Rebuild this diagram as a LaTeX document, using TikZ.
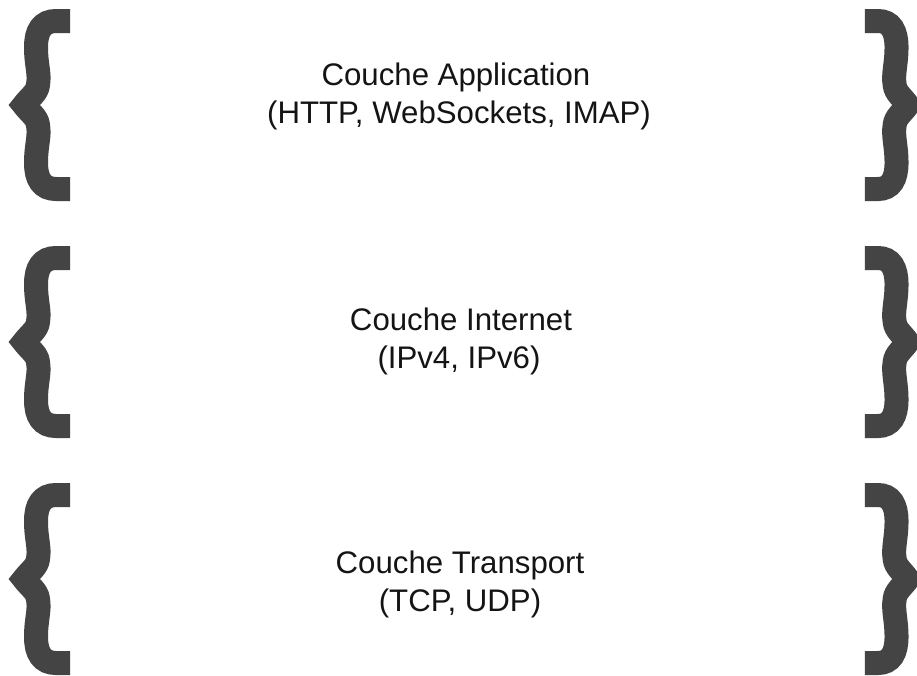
\documentclass[tikz,border=0pt]{standalone}
\usepackage{fontspec}
\setmainfont{Liberation Sans}
\definecolor{bracegray}{RGB}{68,68,68}
\definecolor{textcol}{RGB}{20,20,20}
\begin{document}
\begin{tikzpicture}[x=0.75pt,y=-0.75pt,
  bracestroke/.style={draw=bracegray,line width=18pt,line cap=butt,line join=miter,miter limit=10},
  lbrace/.pic={
    \draw[bracestroke] (70,12) -- (56,12) .. controls (42,12) and (36,22) .. (36,38)
      .. controls (36,56) and (40,64) .. (38,76)
      .. controls (37,84) and (30,88) .. (24,96)
      .. controls (30,104) and (37,108) .. (38,116)
      .. controls (40,128) and (36,136) .. (36,154)
      .. controls (36,170) and (42,180) .. (56,180) -- (70,180);
  },
  label/.style={font=\fontsize{23.4}{25}\selectfont,text=textcol,anchor=base,inner sep=0pt}
]
\useasboundingbox (0,0) rectangle (917,675);
\fill[white] (0,0) rectangle (917,675);
% braces
\pic at (0,9) {lbrace};
\pic at (0,246) {lbrace};
\pic at (0,483) {lbrace};
\pic[xscale=-0.93] at (930,9) {lbrace};
\pic[xscale=-0.93] at (930,246) {lbrace};
\pic[xscale=-0.93] at (930,483) {lbrace};
% texts
\node[label] (app1) at (456,85) {Couche Application};
\node[label] (app2) at (459,123) {(HTTP, WebSockets, IMAP)};
\node[label] (inet1) at (461,330) {Couche Internet};
\node[label] (inet2) at (459,368) {(IPv4, IPv6)};
\node[label] (tr1) at (460,573) {Couche Transport};
\node[label] (tr2) at (460,611) {(TCP, UDP)};
\end{tikzpicture}
\end{document}
